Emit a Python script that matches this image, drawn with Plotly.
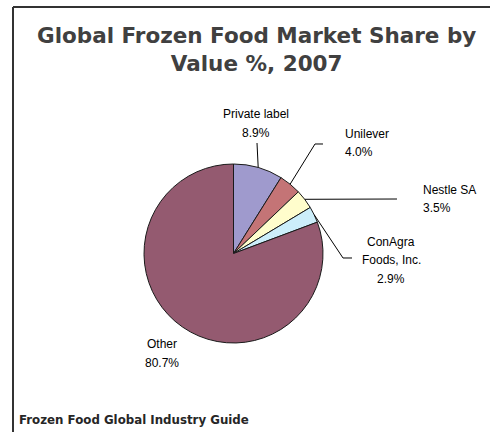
import math
import plotly.graph_objects as go

W, H = 490, 432

# ---- data ----
labels = ["Private label", "Unilever", "Nestle SA", "ConAgra Foods, Inc.", "Other"]
label_lines = [["Private label"], ["Unilever"], ["Nestle SA"], ["ConAgra", "Foods, Inc."], ["Other"]]
values = [8.9, 4.0, 3.5, 2.9, 80.7]
colors = ["#9F9ACD", "#C47476", "#FFFDCC", "#CCEEFA", "#945A70"]

title_text = "Global Frozen Food Market Share by<br>Value %, 2007"
source_text = "Frozen Food Global Industry Guide"

# ---- layout (pixels) ----
cx, cy, R = 233.5, 253.5, 89.5
# (x, y, anchor) of each label block
label_pos = [(256, 123.5, "center"), (343, 143, "left"), (421, 199, "left"),
             (391, 260, "center"), (162, 353.5, "center")]
line_gap = 18.5
leader_pts = [
    [(257, 143)],
    [(315, 144), (323, 144)],
    [(397, 199)],
    [(343, 258), (352, 258)],
    None,
]


def px(x):
    return x / W


def py(y):
    return 1 - y / H


fig = go.Figure(
    go.Pie(
        labels=labels,
        values=values,
        sort=False,
        direction="clockwise",
        rotation=0,
        textinfo="none",
        hoverinfo="label+percent",
        marker=dict(colors=colors, line=dict(color="#1a1a1a", width=1)),
        domain=dict(x=[px(cx - R), px(cx + R)], y=[py(cy + R), py(cy - R)]),
        showlegend=False,
    )
)

shapes = []
annotations = []
total = sum(values)
cum = 0.0
label_font = dict(family="Liberation Sans, Arial, sans-serif", size=12, color="#000000")
for i, v in enumerate(values):
    mid = (cum + v / 2) / total * 2 * math.pi
    cum += v
    sx = cx + R * math.sin(mid)
    sy = cy - R * math.cos(mid)
    pts = leader_pts[i]
    if pts:
        path = [(sx, sy)] + pts
        d = "M " + " L ".join(f"{px(a):.5f},{py(b):.5f}" for a, b in path)
        shapes.append(dict(type="path", xref="paper", yref="paper", path=d,
                           line=dict(color="#000000", width=1)))
    lines = label_lines[i] + [f"{values[i]:.1f}%"]
    lx, ly, anchor = label_pos[i]
    y0 = ly - line_gap * (len(lines) - 1) / 2
    for k, t in enumerate(lines):
        annotations.append(dict(
            text=t, x=px(lx), y=py(y0 + k * line_gap), xref="paper", yref="paper",
            xanchor=anchor, yanchor="middle", showarrow=False, align=anchor,
            font=label_font,
        ))

# frame (top and left border)
shapes.append(dict(type="line", xref="paper", yref="paper",
                   x0=px(13), y0=py(7), x1=1.0, y1=py(7),
                   line=dict(color="#333333", width=2)))
shapes.append(dict(type="line", xref="paper", yref="paper",
                   x0=px(13), y0=py(7), x1=px(13), y1=0.0,
                   line=dict(color="#333333", width=2)))

annotations.append(dict(
    text=f"<b>{title_text}</b>", x=px(256), y=py(49), xref="paper", yref="paper",
    xanchor="center", yanchor="middle", showarrow=False, align="center",
    font=dict(family="DejaVu Sans, Verdana, sans-serif", size=21.5, color="#404040"),
))
annotations.append(dict(
    text=f"<b>{source_text}</b>", x=px(17), y=py(420), xref="paper", yref="paper",
    xanchor="left", yanchor="middle", showarrow=False, align="left",
    font=dict(family="DejaVu Sans, Verdana, sans-serif", size=11.8, color="#262626"),
))

fig.update_layout(
    width=W, height=H, autosize=False,
    margin=dict(l=0, r=0, t=0, b=0),
    paper_bgcolor="#FFFFFF", plot_bgcolor="#FFFFFF",
    shapes=shapes, annotations=annotations,
)

fig.write_html(
    "out.html",
    config={"displayModeBar": False},
    post_script="document.body.style.margin='0px';document.body.style.overflow='hidden';",
)
